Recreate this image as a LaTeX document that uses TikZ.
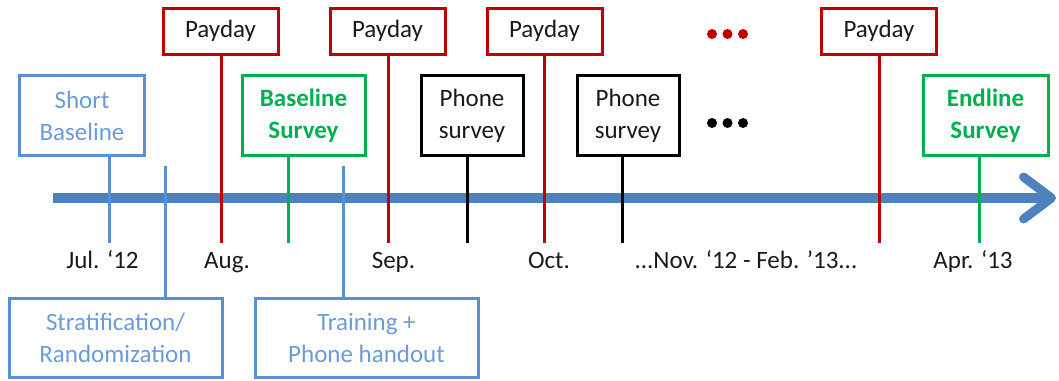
\documentclass[tikz,border=0pt]{standalone}
\usepackage{fontspec}
\setmainfont{Carlito}
\usetikzlibrary{arrows.meta}
\definecolor{axisblue}{HTML}{4F81BD}
\definecolor{boxblue}{HTML}{5B8FD5}
\definecolor{txtblue}{HTML}{6B9BD8}
\definecolor{pdred}{HTML}{C00000}
\definecolor{esgreen}{HTML}{00B050}
\definecolor{lbl}{HTML}{1A1A1A}
\begin{document}
\begin{tikzpicture}[x=1pt,y=-1pt,
  box/.style={draw, line width=3pt, inner sep=0pt, align=center, font=\fontsize{25}{32}\selectfont, fill=white},
  bluebox/.style={box, draw=boxblue, text=txtblue},
  greenbox/.style={box, draw=esgreen, text=esgreen, font=\fontsize{25}{32}\selectfont\bfseries},
  blackbox/.style={box, draw=black, text=lbl},
  redbox/.style={box, draw=pdred, text=lbl, minimum width=115pt, minimum height=46pt},
  stem/.style={line width=3pt},
  datelbl/.style={anchor=base, text=lbl, font=\fontsize{25}{30}\selectfont, inner sep=0pt},
  dot/.style={circle, inner sep=0pt, minimum size=10pt}
]
\useasboundingbox (0,0) rectangle (1059,380);

% axis
\coordinate (as) at (53,198);
\coordinate (ae) at (1056,198);
\draw[line width=10pt, axisblue, -{Straight Barb[length=28pt, width=42pt, line width=9pt, round]}] (as) -- (ae);

% tick coordinates
\coordinate (tsb) at (109,243);
\coordinate (tst) at (165,166);
\coordinate (tp1) at (221,243);
\coordinate (tbs) at (288,243);
\coordinate (ttr) at (343,166);
\coordinate (tp2) at (388,243);
\coordinate (tph1) at (467,243);
\coordinate (tp3) at (544,243);
\coordinate (tph2) at (622,243);
\coordinate (tp4) at (879,243);
\coordinate (tes) at (979,243);

% boxes
\node[bluebox, minimum width=125pt, minimum height=80pt] (sb) at (82,115.5) {Short\\Baseline};
\node[greenbox, minimum width=123pt, minimum height=80pt] (bs) at (303.5,115.5) {Baseline\\Survey};
\node[blackbox, minimum width=102pt, minimum height=80pt] (ph1) at (472,115.5) {Phone\\survey};
\node[blackbox, minimum width=102pt, minimum height=80pt] (ph2) at (628,115.5) {Phone\\survey};
\node[greenbox, minimum width=125pt, minimum height=80pt] (es) at (985.5,115.5) {Endline\\Survey};
\node[redbox] (pd1) at (220.5,31) {Payday};
\node[redbox] (pd2) at (387.5,31) {Payday};
\node[redbox] (pd3) at (544.5,31) {Payday};
\node[redbox] (pd4) at (879,31) {Payday};
\node[bluebox, minimum width=213pt, minimum height=79pt] (st) at (115.5,337.5) {Stratification/\\Randomization};
\node[bluebox, minimum width=223pt, minimum height=79pt] (tr) at (366.5,337.5) {Training +\\Phone handout};

% stems
\draw[stem, boxblue] (sb.south -| tsb) -- (tsb);
\draw[stem, boxblue] (tst) -- (st.north -| tst);
\draw[stem, boxblue] (ttr) -- (tr.north -| ttr);
\draw[stem, esgreen] (bs.south -| tbs) -- (tbs);
\draw[stem, esgreen] (es.south -| tes) -- (tes);
\draw[stem, black] (ph1.south -| tph1) -- (tph1);
\draw[stem, black] (ph2.south -| tph2) -- (tph2);
\draw[stem, pdred] (pd1.south -| tp1) -- (tp1);
\draw[stem, pdred] (pd2.south -| tp2) -- (tp2);
\draw[stem, pdred] (pd3.south -| tp3) -- (tp3);
\draw[stem, pdred] (pd4.south -| tp4) -- (tp4);

% dots
\foreach \i/\x in {1/712,2/727.5,3/743} {
  \node[dot, fill=pdred] (rd\i) at (\x,34) {};
  \node[dot, fill=black] (bd\i) at (\x,123) {};
}

% date labels
\node[datelbl] (l1) at (102.5,268) {Jul. ‘12};
\node[datelbl] (l2) at (227,268) {Aug.};
\node[datelbl] (l3) at (393.5,268) {Sep.};
\node[datelbl] (l4) at (549,268) {Oct.};
\node[datelbl] (l5) at (746,268) {...Nov. ‘12 - Feb. ’13...};
\node[datelbl] (l6) at (973,268) {Apr. ‘13};
\end{tikzpicture}
\end{document}
